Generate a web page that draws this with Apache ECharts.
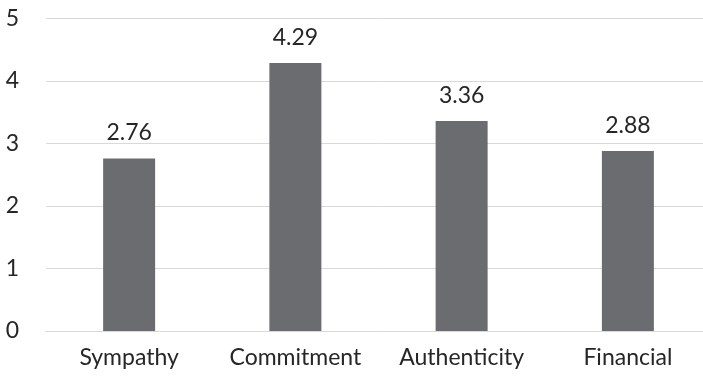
<!DOCTYPE html>
<html>
<head>
<meta charset="utf-8">
<script src="https://cdn.jsdelivr.net/npm/echarts@6/dist/echarts.min.js"></script>
<style>
  html, body { margin: 0; padding: 0; background: #fff; overflow: hidden; }
  /* canvas runs past the right edge so the last category band is cut off */
  #chart { width: 720px; height: 376px; }
</style>
</head>
<body>
<div id="chart"></div>
<script>
// Mean scores by dimension
const categories = ['Sympathy', 'Commitment', 'Authenticity', 'Financial'];
const scores = [2.76, 4.29, 3.36, 2.88];
const yTicks = [0, 1, 2, 3, 4, 5];

const FONT = 'Lato, "Open Sans", sans-serif';
const TEXT = '#262626';

const chart = echarts.init(document.getElementById('chart'), null, { renderer: 'canvas' });
chart.setOption({
  animation: false,
  backgroundColor: '#ffffff',
  grid: { left: 46, top: 18.5, width: 665, height: 312.5, containLabel: false },
  xAxis: {
    type: 'category',
    data: categories,
    axisLine: { show: true, lineStyle: { color: '#d9d9d9', width: 1 } },
    axisTick: { show: false },
    axisLabel: { color: TEXT, fontFamily: FONT, fontSize: 23, margin: 15, interval: 0, hideOverlap: false }
  },
  yAxis: {
    type: 'value',
    min: yTicks[0],
    max: yTicks[yTicks.length - 1],
    interval: 1,
    axisLine: { show: false },
    axisTick: { show: false },
    axisLabel: { color: TEXT, fontFamily: FONT, fontSize: 23, margin: 27 },
    splitLine: { lineStyle: { color: '#d9d9d9', width: 1 } }
  },
  series: [{
    type: 'bar',
    data: scores,
    barWidth: 52,
    itemStyle: { color: '#6b6c70' },
    label: {
      show: true,
      position: 'top',
      distance: 14,
      color: TEXT,
      fontFamily: FONT,
      fontSize: 23,
      formatter: p => p.value.toFixed(2)
    }
  }]
});
</script>
</body>
</html>
